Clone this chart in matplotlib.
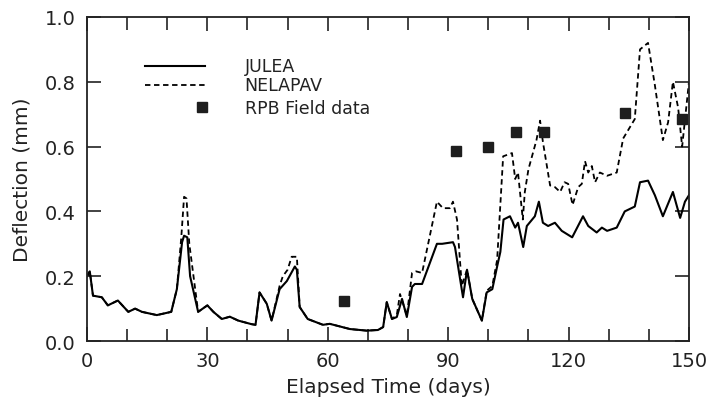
import matplotlib
matplotlib.use("Agg")
import matplotlib.pyplot as plt
from matplotlib.ticker import MultipleLocator

# ---------------- data ----------------
julea_days = [0, 0.7, 1.5, 3.7, 5.2, 7.7, 10.3, 12, 13.7, 17.4, 21, 22.4, 23.7, 24.2, 25,
              25.7, 27.7, 30, 31.5, 33.6, 35.6, 37.7, 41, 42, 43, 44.8, 46, 48, 49.8,
              51.8, 52.3, 53, 55, 58.8, 60.5, 65.5, 69.7, 72.5, 73.8, 74.7, 76, 77.2,
              78.5, 79.7, 81, 81.7, 83.5, 87.2, 88.5, 91.2, 91.7, 93.7, 94.7, 96, 98.4,
              99.6, 101, 102.2, 103, 103.8, 105.4, 106.7, 107.4, 108.7, 109.6, 111.6,
              112.6, 113.6, 114.9, 116.6, 118.3, 120.9, 123.6, 124.9, 127, 128.3, 129.6,
              132, 134, 136.5, 137.8, 139.8, 141.5, 143.5, 146, 147.8, 149, 150]
julea_vals = [0.20, 0.215, 0.14, 0.135, 0.11, 0.125, 0.09, 0.10, 0.09, 0.08, 0.09, 0.16,
              0.305, 0.325, 0.32, 0.20, 0.09, 0.11, 0.09, 0.068, 0.075, 0.063, 0.052,
              0.05, 0.15, 0.115, 0.063, 0.16, 0.185, 0.23, 0.22, 0.105, 0.068, 0.05,
              0.053, 0.037, 0.032, 0.034, 0.043, 0.12, 0.068, 0.074, 0.13, 0.074, 0.167,
              0.176, 0.176, 0.30, 0.30, 0.305, 0.29, 0.135, 0.22, 0.13, 0.063, 0.15,
              0.16, 0.23, 0.275, 0.375, 0.385, 0.35, 0.365, 0.29, 0.355, 0.385, 0.43,
              0.365, 0.355, 0.365, 0.34, 0.32, 0.385, 0.355, 0.335, 0.35, 0.34, 0.35,
              0.40, 0.415, 0.49, 0.495, 0.45, 0.385, 0.46, 0.38, 0.43, 0.45]

nelapav_days = [0, 0.7, 1.5, 3.7, 5.2, 7.7, 10.3, 12, 13.7, 17.4, 21, 22.4, 23.5, 24.2,
                24.8, 25.5, 27.7, 30, 31.5, 33.6, 35.6, 37.7, 41, 42, 43, 44.8, 46, 48,
                48.8, 50, 51, 52.3, 53, 55, 58.8, 60.5, 65.5, 69.7, 72.5, 73.8, 74.7,
                76, 77.2, 78, 79.7, 81, 82, 83.5, 87.2, 88.7, 90.4, 91.2, 92.2, 93.4,
                94.7, 96, 98.4, 99.6, 101, 102.2, 103.7, 105.9, 106.7, 107.4, 108.6,
                109.1, 110, 112, 112.9, 113.6, 115.4, 116.6, 117.9, 119, 119.9, 121,
                122.4, 123.3, 124.1, 124.9, 125.8, 126.6, 127.8, 129.6, 132, 133.6,
                136.5, 137.8, 139.8, 141.5, 143.5, 144.8, 146, 147.3, 148.3, 150]
nelapav_vals = [0.20, 0.215, 0.14, 0.135, 0.11, 0.125, 0.09, 0.10, 0.09, 0.08, 0.09, 0.16,
                0.32, 0.445, 0.44, 0.30, 0.09, 0.11, 0.09, 0.068, 0.075, 0.063, 0.052,
                0.05, 0.15, 0.115, 0.063, 0.17, 0.20, 0.22, 0.26, 0.26, 0.105, 0.068,
                0.05, 0.053, 0.037, 0.032, 0.034, 0.043, 0.12, 0.068, 0.08, 0.145,
                0.078, 0.21, 0.215, 0.21, 0.43, 0.41, 0.41, 0.43, 0.375, 0.17, 0.22,
                0.13, 0.063, 0.155, 0.17, 0.25, 0.57, 0.58, 0.50, 0.52, 0.375, 0.46,
                0.53, 0.62, 0.68, 0.615, 0.48, 0.475, 0.46, 0.49, 0.485, 0.42, 0.475,
                0.485, 0.555, 0.52, 0.54, 0.49, 0.52, 0.51, 0.52, 0.625, 0.685, 0.90,
                0.92, 0.79, 0.62, 0.675, 0.80, 0.72, 0.60, 0.80]

field_days = [64, 92, 100, 107, 114, 134, 148.3]
field_vals = [0.123, 0.585, 0.60, 0.645, 0.645, 0.705, 0.685]

x_ticks = [0, 30, 60, 90, 120, 150]
y_ticks = [0.0, 0.2, 0.4, 0.6, 0.8, 1.0]
y_tick_labels = ["0.0", "0.2", "0.4", "0.6", "0.8", "1.0"]

legend_labels = ["JULEA", "NELAPAV", "RPB Field data"]

# ---------------- plot ----------------
plt.rcParams['font.family'] = ['DejaVu Sans']
fig = plt.figure(figsize=(7.07, 4.06), dpi=100)
ax = fig.add_axes([0.123, 0.1576, 0.8515, 0.7981])

ax.plot(julea_days, julea_vals, color='black', lw=1.5, solid_joinstyle='round')
ax.plot(nelapav_days, nelapav_vals, color='black', lw=1.3, linestyle=(0, (3, 2)))
ax.plot(field_days, field_vals, linestyle='none', marker='s', markersize=6.5,
        color='#1e1e1e')

ax.set_xlim(0, 150)
ax.set_ylim(0, 1.0)
ax.set_xticks(x_ticks)
ax.set_xticklabels([str(t) for t in x_ticks])
ax.xaxis.set_minor_locator(MultipleLocator(10))
ax.set_yticks(y_ticks)
ax.set_yticklabels(y_tick_labels)

ax.tick_params(axis='both', which='both', direction='in', top=True, right=True,
               width=1.2, labelsize=14, colors='#222222')
ax.tick_params(axis='both', which='major', length=10)
ax.tick_params(axis='both', which='minor', length=9)
ax.tick_params(axis='x', pad=7)
ax.tick_params(axis='y', pad=8)
for s in ax.spines.values():
    s.set_linewidth(1.3)
    s.set_color('#222222')

ax.set_xlabel("Elapsed Time (days)", fontsize=14.5, color='#222222', labelpad=5)
ax.set_ylabel("Deflection (mm)", fontsize=14.5, color='#222222', labelpad=10)

# legend drawn manually (axes fraction coords)
tr = ax.transAxes
ax.plot([0.096, 0.196], [0.849, 0.849], color='black', lw=1.5, transform=tr)
ax.plot([0.096, 0.196], [0.790, 0.790], color='black', lw=1.3,
        linestyle=(0, (3, 2)), transform=tr)
ax.plot([0.191], [0.722], marker='s', markersize=6.5, color='#1e1e1e',
        linestyle='none', transform=tr)
for yy, lab in zip([0.849, 0.790, 0.720], legend_labels):
    ax.text(0.262, yy, lab, transform=tr, fontsize=12.5, va='center', ha='left',
            color='#222222')

fig.savefig("out.png", dpi=100)
